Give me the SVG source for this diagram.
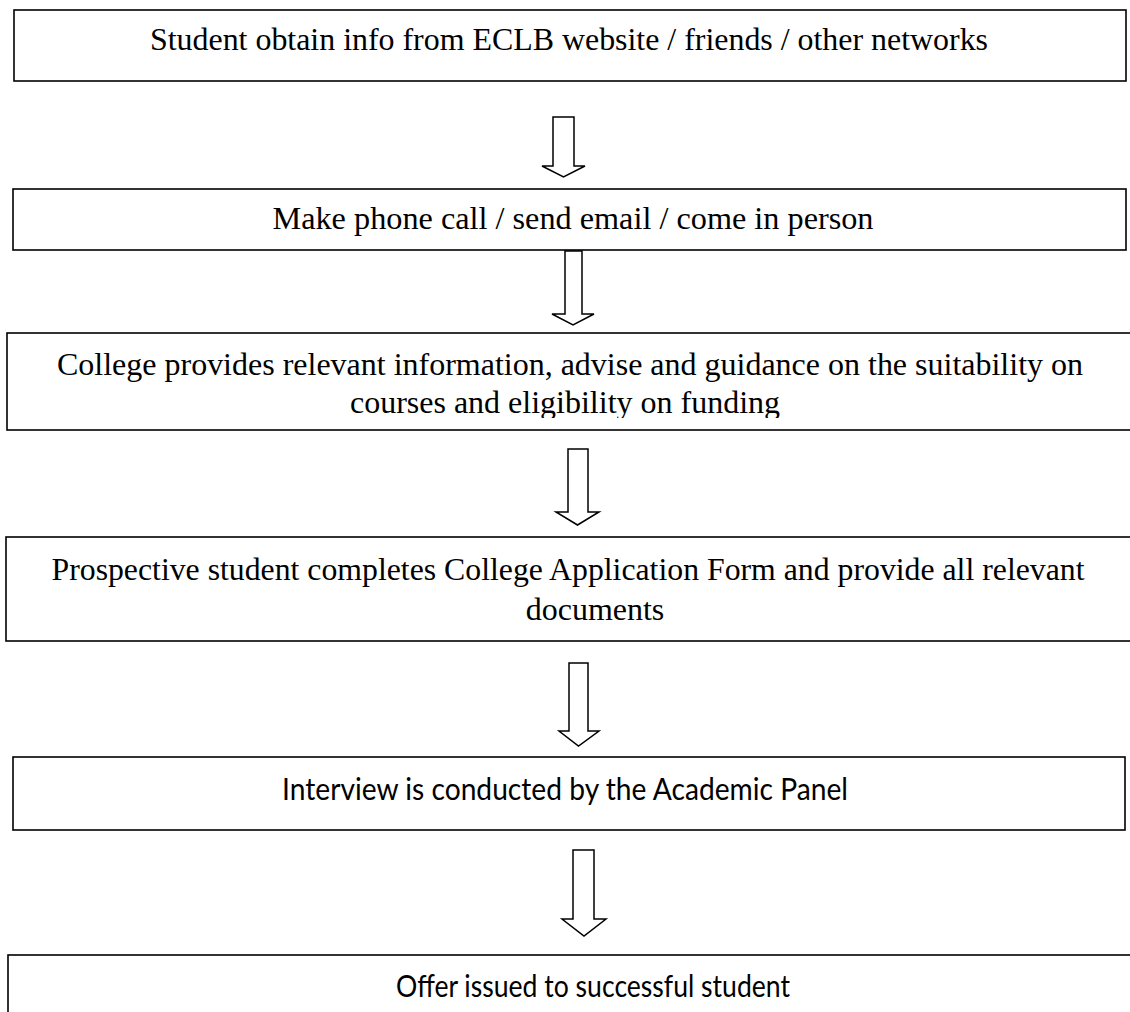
<svg xmlns="http://www.w3.org/2000/svg" width="1130" height="1012" viewBox="0 0 1130 1012">
<style>
.box{fill:#fff;stroke:#000;stroke-width:1.6}
.ser{font-family:"Liberation Serif","Times New Roman",serif;font-size:32px;fill:#000}
.sans{font-family:Lato,"Open Sans","Liberation Sans",sans-serif;font-size:31px;fill:#000}
.arr{fill:#fff;stroke:#000;stroke-width:1.5;stroke-linejoin:miter}
</style>
<defs>
<clipPath id="c3"><rect x="0" y="333" width="1130" height="85"/></clipPath>
</defs>
<rect width="1130" height="1012" fill="#fff"/>
<g id="n1">
<rect class="box" x="14" y="10" width="1112" height="71"/>
<text class="ser" x="569" y="50" text-anchor="middle" textLength="838" lengthAdjust="spacingAndGlyphs">Student obtain info from ECLB website / friends / other networks</text>
</g>
<g id="n2">
<rect class="box" x="13" y="189" width="1113" height="61"/>
<text class="ser" x="573" y="229" text-anchor="middle" textLength="601" lengthAdjust="spacingAndGlyphs">Make phone call / send email / come in person</text>
</g>
<g id="n3">
<rect class="box" x="7" y="333" width="1140" height="97"/>
<g clip-path="url(#c3)">
<text class="ser" x="570" y="375" text-anchor="middle" textLength="1026" lengthAdjust="spacingAndGlyphs">College provides relevant information, advise and guidance on the suitability on</text>
<text class="ser" x="565" y="413" text-anchor="middle">courses and eligibility on funding</text>
</g>
</g>
<g id="n4">
<rect class="box" x="6" y="537" width="1140" height="104"/>
<text class="ser" x="568" y="580" text-anchor="middle" textLength="1033" lengthAdjust="spacingAndGlyphs">Prospective student completes College Application Form and provide all relevant</text>
<text class="ser" x="595" y="620" text-anchor="middle">documents</text>
</g>
<g id="n5">
<rect class="box" x="13" y="757" width="1112" height="73"/>
<text class="sans" x="565" y="800" text-anchor="middle" textLength="566" lengthAdjust="spacingAndGlyphs">Interview is conducted by the Academic Panel</text>
</g>
<g id="n6">
<rect class="box" x="8" y="955" width="1180" height="80"/>
<text class="sans" x="593" y="997" text-anchor="middle" textLength="394" lengthAdjust="spacingAndGlyphs">Offer issued to successful student</text>
</g>
<g id="connectors">
<polygon class="arr" points="553,117 574,117 574,166 585,166 563.5,177 542,166 553,166"/>
<polygon class="arr" points="565,251 582,251 582,314 594,314 573,325 552,314 565,314"/>
<polygon class="arr" points="568,449 588,449 588,512 599,512 577.5,525 556,512 568,512"/>
<polygon class="arr" points="569,663 588,663 588,731 599,731 578.5,746 559,731 569,731"/>
<polygon class="arr" points="573,850 594,850 594,919 606,919 584,936 562,919 573,919"/>
</g>
</svg>
